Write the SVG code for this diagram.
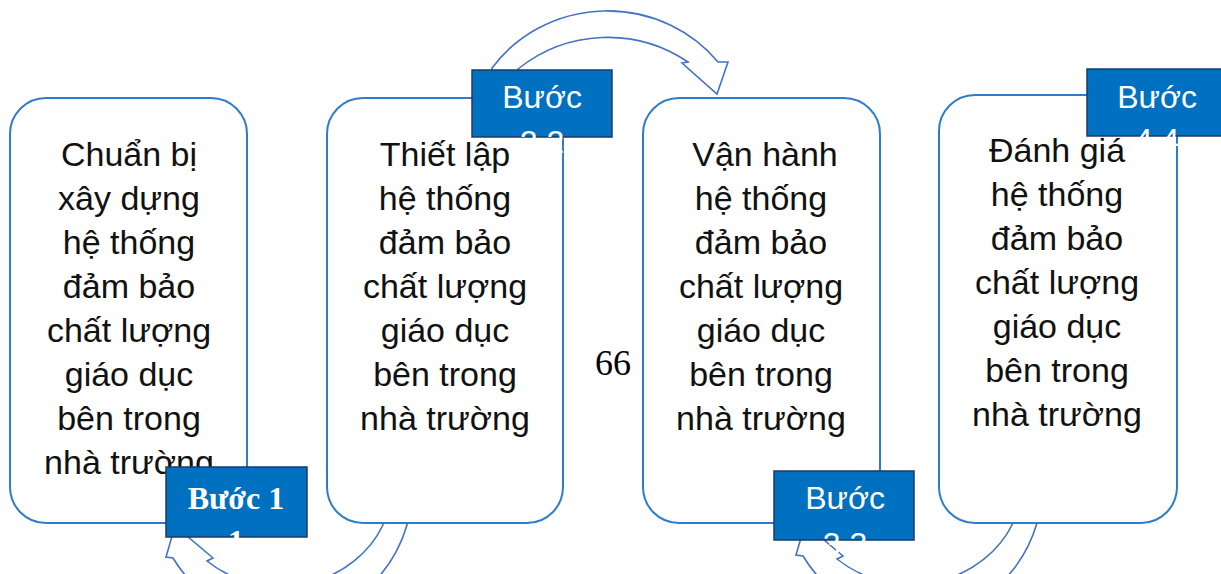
<svg xmlns="http://www.w3.org/2000/svg" width="1221" height="574" viewBox="0 0 1221 574">
<style>
.box{fill:#fff;stroke:#2E7CCB;stroke-width:2}
.txt{font-family:"Liberation Sans",Arial,sans-serif;font-size:34px;fill:#111;text-anchor:middle}
.lbl{fill:#0070C0;stroke:#1F3A63;stroke-width:1.5}
.ls{font-family:"Liberation Sans",Arial,sans-serif;font-size:32px;fill:#fff;text-anchor:middle}
.lt{font-family:"Liberation Serif","Times New Roman",serif;font-size:32px;font-weight:bold;fill:#fff;text-anchor:middle}
.arr{fill:#fff;stroke:#4472C4;stroke-width:1.6;stroke-linejoin:miter}
</style>
<rect width="1221" height="574" fill="#fff"/>
<g id="connectors">
<path class="arr" d="M518,72 L492,72 L492,68 A142,137 0 0 1 718,62 L728,62 L717,94 L682,63 L688,62 A143,143 0 0 0 518,69 Z"/>
<path class="arr" d="M407,518 L407,525 A130,136 0 0 1 173,558 L166,557 L175,526 L213,558 L207,561 A112,103 0 0 0 383,525 L383,518 Z"/>
<path class="arr" d="M1037,516 L1037,523 A130,136 0 0 1 803,556 L796,555 L805,524 L843,556 L837,559 A112,103 0 0 0 1013,523 L1013,516 Z"/>
</g>
<g id="node1">
<rect class="box" x="10" y="98" width="237" height="425" rx="36"/>
<text class="txt"><tspan x="129" y="166">Chuẩn bị</tspan><tspan x="129" y="210">xây dựng</tspan><tspan x="129" y="254">hệ thống</tspan><tspan x="129" y="298">đảm bảo</tspan><tspan x="129" y="342">chất lượng</tspan><tspan x="129" y="386">giáo dục</tspan><tspan x="129" y="430">bên trong</tspan><tspan x="129" y="474">nhà trường</tspan></text>
</g>
<g id="node2">
<rect class="box" x="327" y="98" width="236" height="425" rx="36"/>
<text class="txt"><tspan x="445" y="166">Thiết lập</tspan><tspan x="445" y="210">hệ thống</tspan><tspan x="445" y="254">đảm bảo</tspan><tspan x="445" y="298">chất lượng</tspan><tspan x="445" y="342">giáo dục</tspan><tspan x="445" y="386">bên trong</tspan><tspan x="445" y="430">nhà trường</tspan></text>
</g>
<g id="node3">
<rect class="box" x="643" y="98" width="237" height="425" rx="36"/>
<text class="txt"><tspan x="765" y="166">Vận hành</tspan><tspan x="761" y="210">hệ thống</tspan><tspan x="761" y="254">đảm bảo</tspan><tspan x="761" y="298">chất lượng</tspan><tspan x="761" y="342">giáo dục</tspan><tspan x="761" y="386">bên trong</tspan><tspan x="761" y="430">nhà trường</tspan></text>
</g>
<g id="node4">
<rect class="box" x="939" y="95" width="238" height="428" rx="36"/>
<text class="txt"><tspan x="1057" y="162">Đánh giá</tspan><tspan x="1057" y="206">hệ thống</tspan><tspan x="1057" y="250">đảm bảo</tspan><tspan x="1057" y="294">chất lượng</tspan><tspan x="1057" y="338">giáo dục</tspan><tspan x="1057" y="382">bên trong</tspan><tspan x="1057" y="426">nhà trường</tspan></text>
</g>
<g id="pagenum">
<text x="613" y="375" font-family="'Liberation Serif','Times New Roman',serif" font-size="36" fill="#000" text-anchor="middle">66</text>
</g>
<g id="step1">
<rect class="lbl" x="166" y="467" width="141" height="70"/>
<text class="lt"><tspan x="236" y="509">Bước 1</tspan><tspan x="236" y="552">1</tspan></text>
</g>
<g id="step2">
<rect class="lbl" x="472" y="70" width="140" height="67"/>
<text class="ls"><tspan x="542" y="108">Bước</tspan><tspan x="542" y="153">2 2</tspan></text>
</g>
<g id="step3">
<rect class="lbl" x="774" y="471" width="140" height="69"/>
<text class="ls"><tspan x="845" y="509">Bước</tspan><tspan x="845" y="555">3 3</tspan></text>
</g>
<g id="step4">
<rect class="lbl" x="1087" y="69" width="140" height="67"/>
<text class="ls"><tspan x="1157" y="108">Bước</tspan><tspan x="1157" y="151">4 4</tspan></text>
</g>
</svg>
